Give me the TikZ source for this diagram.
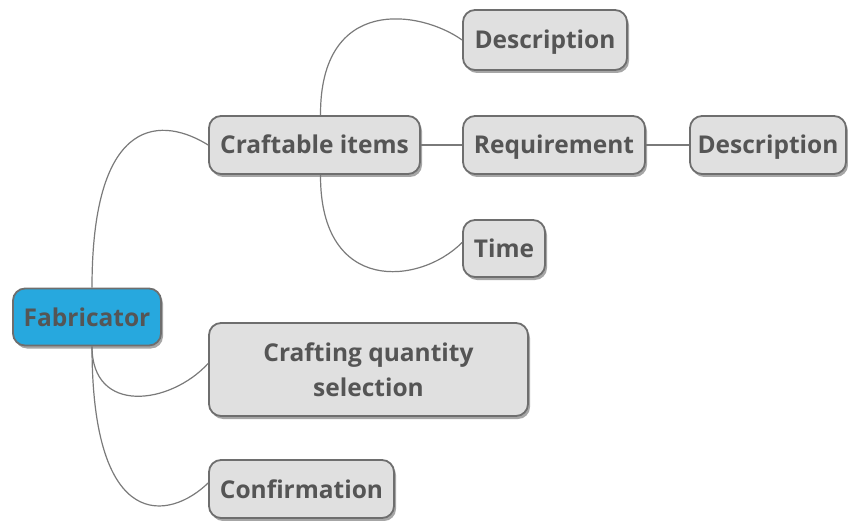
\documentclass[tikz,border=0pt]{standalone}
\usepackage{fontspec}
\setmainfont{Open Sans}
\usetikzlibrary{shadows}
\definecolor{boxfill}{HTML}{E0E0E0}
\definecolor{boxline}{HTML}{6E6E6E}
\definecolor{txt}{HTML}{555555}
\definecolor{rootfill}{HTML}{27A8DE}
\definecolor{wire}{HTML}{7A7A7A}
\begin{document}
\begin{tikzpicture}[x=1pt,y=-1pt,
  topic/.style={draw=boxline, line width=1.8pt, fill=boxfill, rounded corners=12pt,
    text=txt, font=\bfseries\fontsize{24.5}{35}\selectfont, align=center, inner sep=0pt,
    drop shadow={shadow xshift=2pt, shadow yshift=-3pt, opacity=0.35, fill=black}},
  oneline/.style={topic, text height=18pt, text depth=0pt},
  root/.style={oneline, fill=rootfill},
  wire/.style={draw=wire, line width=1.2pt}]
\useasboundingbox (0,0) rectangle (848,521);
% main topic
\node[root, minimum width=148, minimum height=57] (fab) at (87,317) {Fabricator};
% first level
\node[oneline, minimum width=211, minimum height=58] (craft) at (314.5,145) {Craftable items};
\node[topic, minimum width=319, minimum height=93] (qty) at (368.5,369.5) {\raisebox{-2pt}{Crafting quantity}\\\raisebox{-2pt}{selection}};
\node[oneline, minimum width=185, minimum height=58] (conf) at (301.5,489) {Confirmation};
% second level
\node[oneline, minimum width=164, minimum height=60] (desc) at (545,40) {Description};
\node[oneline, minimum width=182, minimum height=58] (req) at (554,145) {Requirement};
\node[oneline, minimum width=82, minimum height=57] (time) at (504,248.5) {Time};
% third level
\node[oneline, minimum width=156, minimum height=58] (desc2) at (768,145) {Description};
% branches
\draw[wire] ([xshift=5pt]fab.north) .. controls (92,110) and (165,118) .. (craft.west);
\draw[wire] ([xshift=5pt]fab.south) .. controls (92,415) and (170,405) .. ([yshift=6pt]qty.west);
\draw[wire] ([xshift=5pt]fab.south) .. controls (92,535) and (170,520) .. ([yshift=6pt]conf.west);
\draw[wire] ([xshift=6pt]craft.north) .. controls (320,-5) and (420,10) .. (desc.west);
\draw[wire] ([xshift=6pt]craft.south) .. controls (320,295) and (420,285) .. ([yshift=6pt]time.west);
\draw[wire] (craft.east) -- (req.west);
\draw[wire] (req.east) -- (desc2.west);
\end{tikzpicture}
\end{document}
